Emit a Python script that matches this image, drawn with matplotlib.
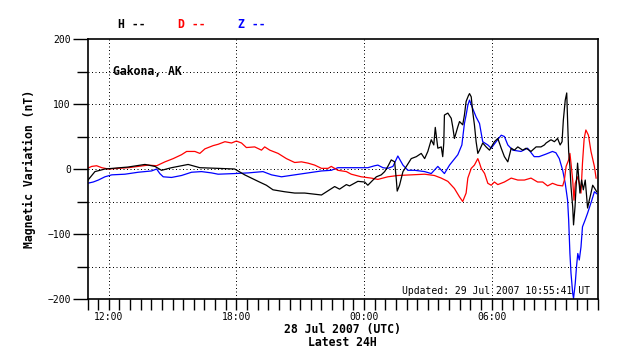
import matplotlib
matplotlib.use("Agg")
import matplotlib.pyplot as plt
import matplotlib.dates as mdates
import pandas as pd

# hours after 28 Jul 2007 00:00 UTC, values in nT
h_hours = [11.00, 11.35, 11.82, 12.90, 13.70, 14.17, 14.48, 14.95, 15.73, 16.28, 17.13, 17.92,
           18.39, 19.02, 19.41, 19.72, 20.27, 20.74, 21.21, 22.00, 22.38, 22.62, 22.85, 23.17,
           23.32, 23.71, 24.03, 24.18, 24.42, 24.58, 24.81, 24.97, 25.12, 25.28, 25.44, 25.52,
           25.56, 25.67, 25.83, 25.99, 26.22, 26.46, 26.69, 26.85, 27.00, 27.16, 27.28, 27.35,
           27.47, 27.63, 27.70, 27.75, 27.78, 27.94, 28.10, 28.17, 28.25, 28.41, 28.49, 28.64,
           28.72, 28.80, 28.91, 28.96, 29.04, 29.11, 29.19, 29.27, 29.35, 29.43, 29.58, 29.74,
           29.90, 30.13, 30.29, 30.45, 30.60, 30.76, 30.92, 31.07, 31.23, 31.46, 31.62, 31.85,
           32.09, 32.32, 32.48, 32.56, 32.79, 32.95, 33.10, 33.22, 33.31, 33.37, 33.46, 33.53,
           33.57, 33.62, 33.68, 33.73, 33.81, 33.85, 33.92, 33.97, 34.04, 34.09, 34.15, 34.23,
           34.31, 34.40, 34.46, 34.51, 34.59, 34.67, 34.75, 34.83, 34.94]
h_vals = [-18, -4, 0, 3, 7, 4, -2, 2, 7, 2, 1, 0,
          -9, -19, -25, -32, -35, -37, -37, -40, -32, -27, -31, -24,
          -26, -19, -20, -25, -17, -12, -9, -4, 4, 14, 11, -17,
          -34, -25, -4, 4, 16, 19, 24, 16, 27, 45, 37, 64,
          32, 34, 19, 40, 83, 86, 78, 65, 47, 65, 73, 68,
          83, 104, 113, 116, 111, 88, 68, 42, 24, 29, 40, 34,
          29, 42, 47, 32, 19, 11, 32, 29, 34, 29, 32, 27,
          34, 34, 37, 40, 45, 42, 47, 37, 42, 75, 106, 117,
          75, 27, 4, -27, -58, -86, -58, -27, 9, -12, -37, -17,
          -32, -17, -40, -60, -48, -37, -25, -29, -35]

d_hours = [11.00, 11.20, 11.43, 11.67, 11.98, 12.45, 12.92, 13.38, 13.85, 14.25, 14.64, 15.03,
           15.42, 15.66, 16.05, 16.28, 16.52, 16.91, 17.14, 17.46, 17.77, 18.00, 18.24, 18.47,
           18.86, 19.18, 19.33, 19.57, 19.96, 20.35, 20.74, 21.06, 21.37, 21.68, 22.00, 22.31,
           22.46, 22.77, 23.17, 23.40, 23.87, 24.34, 24.65, 25.12, 25.59, 26.22, 26.85, 27.31,
           27.63, 27.94, 28.25, 28.49, 28.64, 28.80, 28.88, 29.04, 29.19, 29.35, 29.43, 29.51,
           29.67, 29.82, 29.98, 30.13, 30.29, 30.60, 30.92, 31.23, 31.54, 31.85, 32.16, 32.40,
           32.63, 32.86, 33.10, 33.34, 33.42, 33.50, 33.62, 33.68, 33.73, 33.81, 33.87, 33.93,
           34.04, 34.12, 34.20, 34.27, 34.35, 34.43, 34.55, 34.67, 34.83, 34.91]
d_vals = [1, 4, 5, 2, 0, 1, 2, 4, 6, 5, 11, 16,
          22, 27, 27, 24, 31, 36, 38, 42, 40, 43, 40, 33,
          34, 29, 34, 29, 24, 16, 10, 11, 9, 6, 1, 1,
          4, -2, -4, -8, -12, -14, -16, -12, -10, -9, -8, -10,
          -14, -19, -30, -43, -50, -37, -14, 1, 6, 16, 9, 1,
          -7, -22, -25, -20, -24, -20, -14, -17, -17, -14, -20, -20,
          -26, -22, -25, -26, -17, 4, 14, 24, 9, -17, -48, -22,
          -12, -22, -37, 9, 47, 60, 52, 27, 4, -14]

z_hours = [11.00, 11.27, 11.51, 11.82, 12.14, 12.76, 13.38, 14.01, 14.25, 14.40, 14.56, 14.95,
           15.42, 15.89, 16.36, 16.83, 17.14, 17.92, 18.55, 19.25, 19.65, 20.12, 20.74, 21.37,
           22.00, 22.46, 22.77, 23.24, 23.56, 24.18, 24.50, 24.65, 24.89, 25.12, 25.36, 25.59,
           25.83, 26.06, 26.38, 26.85, 27.16, 27.47, 27.78, 28.02, 28.41, 28.60, 28.72, 28.80,
           28.88, 28.96, 29.11, 29.27, 29.43, 29.51, 29.58, 29.82, 29.98, 30.21, 30.45, 30.60,
           30.76, 30.99, 31.38, 31.69, 32.00, 32.23, 32.56, 32.86, 33.02, 33.18, 33.34, 33.46,
           33.57, 33.62, 33.68, 33.73, 33.81, 33.85, 33.93, 33.99, 34.05, 34.12, 34.20, 34.27,
           34.40, 34.51, 34.59, 34.71, 34.83, 34.94]
z_vals = [-22, -20, -17, -12, -9, -8, -5, -3, 0, -7, -12, -13,
          -10, -5, -4, -6, -8, -7, -6, -4, -9, -12, -9, -6,
          -3, -2, 2, 2, 2, 2, 5, 6, 2, 1, 4, 20,
          6, -2, -2, -4, -7, 4, -7, 6, 22, 37, 70, 83,
          98, 106, 93, 80, 70, 55, 42, 37, 32, 42, 52, 50,
          37, 29, 27, 32, 19, 19, 23, 27, 25, 16, -2, -22,
          -48, -78, -130, -160, -191, -199, -176, -150, -130, -140, -120, -89,
          -78, -68, -60, -48, -35, -38]

base = pd.Timestamp("2007-07-28 00:00")
def to_time(hours):
    return base + pd.to_timedelta(hours, unit="h")

mono = "DejaVu Sans Mono"

fig = plt.figure(figsize=(6.38, 3.59), dpi=100)
ax = fig.add_axes([87.5 / 638, 1 - 299 / 359, 510.5 / 638, 260 / 359])

ax.plot(to_time(z_hours), z_vals, color="#0000ff", lw=0.9)
ax.plot(to_time(d_hours), d_vals, color="#ff0000", lw=0.9)
ax.plot(to_time(h_hours), h_vals, color="black", lw=0.9)

ax.set_xlim(to_time(11), to_time(35))
ax.set_ylim(-200, 200)

ax.yaxis.set_major_locator(plt.MultipleLocator(100))
ax.yaxis.set_minor_locator(plt.MultipleLocator(50))
ax.xaxis.set_major_locator(mdates.HourLocator(byhour=[0, 6, 12, 18]))
ax.xaxis.set_minor_locator(mdates.MinuteLocator(byminute=[0, 30]))
ax.xaxis.set_major_formatter(mdates.DateFormatter("%H:%M"))

ax.tick_params(which="both", direction="out", length=8, width=1, color="black",
               labelsize=7, pad=1.5)
ax.tick_params(axis="y", which="major", length=11, pad=1)
for lab in ax.get_xticklabels() + ax.get_yticklabels():
    lab.set_family(mono)

for yv in [-150, -100, -50, 0, 50, 100, 150]:
    ax.axhline(yv, color="black", lw=0.72, ls=(0, (1, 2.5)), zorder=0)
for hv in [12, 18, 24, 30]:
    ax.axvline(to_time(hv), color="black", lw=0.72, ls=(0, (1, 2.5)), zorder=0)

for s in ax.spines.values():
    s.set_linewidth(1.2)

ax.set_ylabel("Magnetic Variation (nT)", family=mono, fontsize=8.3,
              fontweight="bold", labelpad=8)

ax.text(0.05, 0.875, "Gakona, AK", transform=ax.transAxes, family=mono,
        fontsize=8.3, fontweight="bold", va="center", ha="left")
ax.text(0.985, 0.03, "Updated: 29 Jul 2007 10:55:41 UT", transform=ax.transAxes,
        family=mono, fontsize=7, va="center", ha="right")

fig.text(342.75 / 638, 1 - 329 / 359, "28 Jul 2007 (UTC)", family=mono,
         fontsize=8.3, fontweight="bold", ha="center", va="center")
fig.text(342.75 / 638, 1 - 343 / 359, "Latest 24H", family=mono,
         fontsize=8.3, fontweight="bold", ha="center", va="center")

for x, txt, col in [(118, "H --", "black"), (178, "D --", "#ff0000"), (238, "Z --", "#0000ff")]:
    fig.text(x / 638, 1 - 24 / 359, txt, family=mono, fontsize=8.3,
             fontweight="bold", color=col, ha="left", va="center")

fig.savefig("out.png", dpi=100)
